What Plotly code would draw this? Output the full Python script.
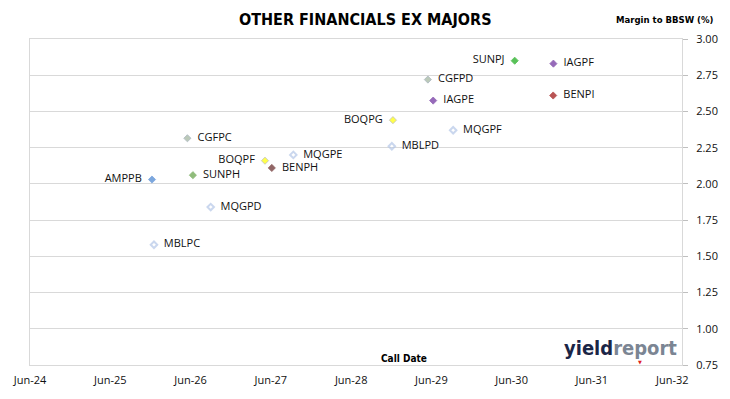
import plotly.graph_objects as go

# ---- data ----
names = ["SUNPJ", "IAGPF", "CGFPD", "IAGPE", "BENPI", "BOQPG", "MQGPF", "MBLPD",
         "CGFPC", "MQGPE", "BOQPF", "BENPH", "SUNPH", "AMPPB", "MQGPD", "MBLPC"]
call_dates = ["2030-06-15", "2030-12-08", "2029-05-16", "2029-06-09", "2030-12-07",
              "2028-12-08", "2029-09-08", "2028-12-03", "2026-05-18", "2027-09-12",
              "2027-05-06", "2027-06-06", "2026-06-12", "2025-12-08", "2026-09-01",
              "2025-12-17"]
margins = [2.85, 2.83, 2.72, 2.575, 2.61, 2.44, 2.37, 2.26,
           2.315, 2.20, 2.16, 2.11, 2.06, 2.03, 1.84, 1.58]
fill_colors = ["#12a812", "#6a2c9c", "#9fb39c", "#6a2c9c", "#9c0c0c", "#ffff00",
               "#b4c6e7", "#b4c6e7", "#9fb39c", "#b4c6e7", "#ffff00", "#632626",
               "#62a044", "#4682d0", "#b4c6e7", "#b4c6e7"]
symbols = ["diamond", "diamond", "diamond", "diamond", "diamond", "diamond",
           "diamond-open", "diamond-open", "diamond", "diamond-open", "diamond",
           "diamond", "diamond", "diamond", "diamond-open", "diamond-open"]
label_side = ["middle left", "middle right", "middle right", "middle right",
              "middle right", "middle left", "middle right", "middle right",
              "middle right", "middle right", "middle left", "middle right",
              "middle right", "middle left", "middle right", "middle right"]
line_colors = ["#12a812", "#6a2c9c", "#8a9aa8", "#6a2c9c", "#9c0c0c", "#a6a6a6",
               "#b4c6e7", "#b4c6e7", "#8a9aa8", "#b4c6e7", "#a6a6a6", "#632626",
               "#62a044", "#4682d0", "#b4c6e7", "#b4c6e7"]
line_widths = [2 if s == "diamond-open" else 0.8 for s in symbols]
marker_sizes = [5 if s == "diamond-open" else 5.5 for s in symbols]

tick_dates = ["2024-06-01", "2025-06-01", "2026-06-01", "2027-06-01", "2028-06-01",
              "2029-06-01", "2030-06-01", "2031-06-01", "2032-06-01"]
tick_labels = ["Jun-24", "Jun-25", "Jun-26", "Jun-27", "Jun-28",
               "Jun-29", "Jun-30", "Jun-31", "Jun-32"]
y_ticks = [0.75, 1.00, 1.25, 1.50, 1.75, 2.00, 2.25, 2.50, 2.75, 3.00]

LABEL_FONT = "Open Sans, DejaVu Sans, sans-serif"
NARROW = "Liberation Sans Narrow, DejaVu Sans Condensed, Arial Narrow, sans-serif"

texts = [("  " + n) if p.endswith("right") else (n + "  ") for n, p in zip(names, label_side)]

fig = go.Figure()
fig.add_trace(go.Scatter(
    x=call_dates, y=margins, mode="markers+text",
    text=texts, textposition=label_side,
    textfont=dict(family=LABEL_FONT, size=11, color="#111111"),
    marker=dict(symbol=symbols, size=marker_sizes, color=fill_colors,
                line=dict(color=line_colors, width=line_widths)),
    hoverinfo="text", showlegend=False, cliponaxis=False,
))

fig.update_layout(
    width=730, height=399,
    margin=dict(l=30, r=36, t=39, b=29),
    paper_bgcolor="white", plot_bgcolor="white",
    font=dict(family=LABEL_FONT, size=11, color="#111111"),
    xaxis=dict(type="date", range=["2024-06-01", "2032-07-15"],
               tickvals=tick_dates, ticktext=tick_labels,
               showgrid=False, zeroline=False,
               showline=True, mirror=True, linecolor="#d9d9d9", linewidth=1,
               ticks="", ticklabelstandoff=5,
               tickfont=dict(family=LABEL_FONT, size=11, color="#111111")),
    yaxis=dict(range=[0.75, 3.0], side="right", tickvals=y_ticks, tickformat=".2f",
               showgrid=True, gridcolor="#d9d9d9", gridwidth=1, zeroline=False,
               showline=True, mirror=True, linecolor="#d9d9d9", linewidth=1,
               ticks="outside", ticklen=5, tickcolor="#bfbfbf", ticklabelstandoff=6,
               tickfont=dict(family=LABEL_FONT, size=11, color="#111111")),
    annotations=[
        dict(text="<b>OTHER FINANCIALS EX MAJORS</b>", xref="paper", yref="paper",
             x=0.5, y=1, xanchor="center", yanchor="middle", xshift=9, yshift=20,
             showarrow=False, font=dict(family=NARROW, size=16, color="#000000")),
        dict(text="<b>Margin to BBSW (%)</b>", xref="paper", yref="paper",
             x=1, y=1, xanchor="right", yanchor="middle", xshift=34, yshift=20,
             showarrow=False, font=dict(family=NARROW, size=9.5, color="#000000")),
        dict(text="<b>Call Date</b>", xref="paper", yref="paper",
             x=0.573, y=0, xanchor="center", yanchor="middle", yshift=7,
             showarrow=False, font=dict(family=NARROW, size=10, color="#000000")),
        dict(text="<b><span style='color:#1b2546'>yield</span><span style='color:#7b8593'>report</span></b>",
             xref="paper", yref="paper", x=0.995, y=0, xanchor="right", yanchor="middle",
             yshift=17, showarrow=False,
             font=dict(family=NARROW, size=20, color="#1b2546")),
        dict(text="▼", xref="paper", yref="paper", x=0.935, y=0, xanchor="center",
             yanchor="middle", yshift=3, showarrow=False,
             font=dict(family="DejaVu Sans", size=5, color="#e02020")),
    ],
)

fig.write_html("out.html",
               config={"displayModeBar": False},
               post_script="document.body.style.margin='0px';document.body.style.overflow='hidden';")
